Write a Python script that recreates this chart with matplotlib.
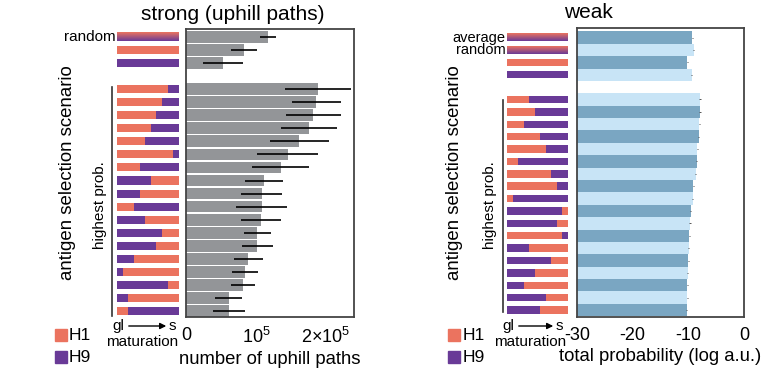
import numpy as np
import matplotlib
matplotlib.use("Agg")
import matplotlib.pyplot as plt
from matplotlib.colors import to_rgb

plt.rcParams['font.family'] = ['Liberation Sans', 'DejaVu Sans']
plt.rcParams['mathtext.default'] = 'regular'
plt.rcParams['axes.unicode_minus'] = False

H1_COL = '#eb735f'
H9_COL = '#693a97'
GRAY = '#939598'
DARK_BLUE = '#7aa6c2'
LIGHT_BLUE = '#c8e4f6'

# strong selection: number of uphill paths
strong_ref_labels = ['random', '', '']
strong_ref_kind = ['mix', 'H1', 'H9']
strong_ref_paths = [1.17e5, 0.83e5, 0.53e5]
strong_ref_err = [0.11e5, 0.19e5, 0.29e5]
strong_first = ['H1', 'H1', 'H1', 'H1', 'H1', 'H1', 'H1', 'H9', 'H9',
                'H1', 'H9', 'H9', 'H9', 'H9', 'H9', 'H9', 'H9', 'H1']
strong_steps = [9, 8, 7, 6, 5, 10, 4, 6, 4, 3, 5, 8, 7, 3, 1, 9, 2, 2]
strong_paths = [1.89e5, 1.86e5, 1.82e5, 1.76e5, 1.62e5, 1.45e5, 1.35e5, 1.11e5, 1.08e5,
                1.08e5, 1.07e5, 1.02e5, 1.02e5, 0.89e5, 0.84e5, 0.81e5, 0.61e5, 0.61e5]
strong_err = [0.47e5, 0.35e5, 0.39e5, 0.40e5, 0.42e5, 0.44e5, 0.41e5, 0.27e5, 0.29e5,
              0.36e5, 0.29e5, 0.19e5, 0.22e5, 0.21e5, 0.19e5, 0.17e5, 0.19e5, 0.23e5]

# weak selection: total log probability
weak_ref_labels = ['average', 'random', '', '']
weak_ref_kind = ['mix', 'mix', 'H1', 'H9']
weak_ref_prob = [-9.3, -9.0, -10.2, -9.4]
weak_first = ['H1', 'H1', 'H1', 'H1', 'H1', 'H1', 'H1', 'H1', 'H1',
              'H9', 'H9', 'H1', 'H9', 'H9', 'H9', 'H9', 'H9', 'H9']
weak_steps = [4, 5, 3, 6, 7, 2, 8, 9, 1, 10, 9, 10, 4, 8, 5, 3, 7, 6]
weak_prob = [-7.9, -7.9, -8.0, -8.1, -8.4, -8.5, -8.7, -9.1, -9.2,
             -9.6, -9.7, -9.8, -9.9, -10.0, -10.1, -10.2, -10.2, -10.3]
weak_err = 0.1

N_STEPS = 11
COLS = {'H1': H1_COL, 'H9': H9_COL}
OTHER = {'H1': 'H9', 'H9': 'H1'}


def fx(px):
    return px / 775.0


def fy(py):
    return 1 - py / 370.0


def gradient_bar(ax, y, h):
    t = np.linspace(0, 1, 40)[:, None, None]
    img = (1 - t) * np.array(to_rgb(H1_COL)) + t * np.array(to_rgb(H9_COL))
    ax.imshow(img, extent=[0, 1, y + h / 2, y - h / 2], aspect='auto',
              interpolation='bilinear', zorder=2)


def composition(ax, y_ref, kinds, labels, y_high, first, steps, h=0.62,
                label_size=11):
    for y, k, lab in zip(y_ref, kinds, labels):
        if k == 'mix':
            gradient_bar(ax, y, h)
        else:
            ax.barh(y, 1, height=h, color=COLS[k])
        if lab:
            ax.text(-0.02, y, lab, transform=ax.get_yaxis_transform(),
                    ha='right', va='center', fontsize=label_size)
    for y, f, s in zip(y_high, first, steps):
        frac = s / N_STEPS
        ax.barh(y, frac, height=h, color=COLS[f])
        ax.barh(y, 1 - frac, left=frac, height=h, color=COLS[OTHER[f]])
    ax.set_xlim(0, 1)
    ax.axis('off')


def style_main(ax):
    for sp in ax.spines.values():
        sp.set_color('#444444')
        sp.set_linewidth(1.3)
    ax.set_yticks([])
    ax.tick_params(axis='x', length=0, pad=7, labelsize=13)


fig = plt.figure(figsize=(7.75, 3.7), dpi=100)

# ---- strong panel ----
ax_s = fig.add_axes([fx(186), fy(317), fx(168), 288 / 370])
ax_sc = fig.add_axes([fx(117), fy(317), fx(62), 288 / 370])
ys_ref = np.arange(len(strong_ref_paths))
ys_high = np.arange(len(strong_paths)) + len(strong_ref_paths) + 1

ax_s.barh(ys_ref, strong_ref_paths, height=0.9, color=GRAY)
ax_s.barh(ys_high, strong_paths, height=0.9, color=GRAY)
ax_s.errorbar(strong_ref_paths, ys_ref, xerr=strong_ref_err, fmt='none',
              ecolor='black', elinewidth=1.2, capsize=0)
ax_s.errorbar(strong_paths, ys_high, xerr=strong_err, fmt='none',
              ecolor='black', elinewidth=1.2, capsize=0)
ax_s.set_xlim(0, 2.4e5)
ax_s.set_xticks([0, 1e5, 2e5])
ax_s.set_xticklabels(['0', '$10^5$', '2×$10^5$'])
ax_s.set_xlabel('number of uphill paths', fontsize=13.3, labelpad=3)
style_main(ax_s)

composition(ax_sc, ys_ref, strong_ref_kind, strong_ref_labels,
            ys_high, strong_first, strong_steps)
for a in (ax_s, ax_sc):
    a.set_ylim(ys_high[-1] + 0.46, -0.61)

# ---- weak panel ----
ax_w = fig.add_axes([fx(577), fy(317), fx(167), 289 / 370])
ax_wc = fig.add_axes([fx(507), fy(317), fx(61), 289 / 370])
yw_ref = np.arange(len(weak_ref_prob))
yw_high = np.arange(len(weak_prob)) + len(weak_ref_prob) + 1

for y, v in zip(list(yw_ref) + list(yw_high), weak_ref_prob + weak_prob):
    c = DARK_BLUE if y % 2 == 0 else LIGHT_BLUE
    ax_w.barh(y, v + 30, left=-30, height=1.0, color=c)
ax_w.errorbar(weak_ref_prob + weak_prob, list(yw_ref) + list(yw_high),
              xerr=weak_err, fmt='none', ecolor='#555555', elinewidth=0.7,
              capsize=0)
ax_w.set_xlim(-30, 0)
ax_w.set_xticks([-30, -20, -10, 0])
ax_w.set_xlabel('total probability (log a.u.)', fontsize=13.3, labelpad=3)
style_main(ax_w)

composition(ax_wc, yw_ref, weak_ref_kind, weak_ref_labels,
            yw_high, weak_first, weak_steps, h=0.6, label_size=10.5)
for a in (ax_w, ax_wc):
    a.set_ylim(yw_high[-1] + 0.56, -0.77)

# ---- titles and annotations ----
fig.text(fx(233), fy(14), 'strong (uphill paths)', ha='center', va='center',
         fontsize=15)
fig.text(fx(588), fy(13), 'weak', ha='center', va='center', fontsize=15)

for xc, xl, xtxt, y0, y1, xg, xs, xm in [(67, 112, 100, 87, 316, 118, 172, 142),
                                         (455, 503, 490, 100, 312, 508, 559, 530)]:
    fig.text(fx(xc), fy(173), 'antigen selection scenario', rotation=90,
             ha='center', va='center', fontsize=13.4)
    fig.text(fx(xtxt), fy(205), 'highest prob.', rotation=90,
             ha='center', va='center', fontsize=11)
    fig.add_artist(plt.Line2D([fx(xl), fx(xl)], [fy(y0), fy(y1)],
                              color='#333333', lw=1.2))
    fig.text(fx(xg), fy(326), 'gl', ha='center', va='center', fontsize=11)
    fig.text(fx(xs), fy(326), 's', ha='center', va='center', fontsize=11)
    fig.add_artist(matplotlib.patches.FancyArrowPatch(
        (fx(xg + 8), fy(326)), (fx(xs - 3), fy(326)),
        transform=fig.transFigure, arrowstyle='-|>', mutation_scale=9,
        color='black', lw=1.0))
    fig.text(fx(xm), fy(342), 'maturation', ha='center', va='center',
             fontsize=11)

for xsq, xt in [(61, 69), (454, 463)]:
    for yy, name in [(335, 'H1'), (357, 'H9')]:
        fig.add_artist(plt.Line2D([fx(xsq)], [fy(yy)], marker='s',
                                  markersize=9, color=COLS[name], lw=0))
        fig.text(fx(xt), fy(yy), name, ha='left', va='center', fontsize=12.5)

fig.savefig('out.png', dpi=100)
